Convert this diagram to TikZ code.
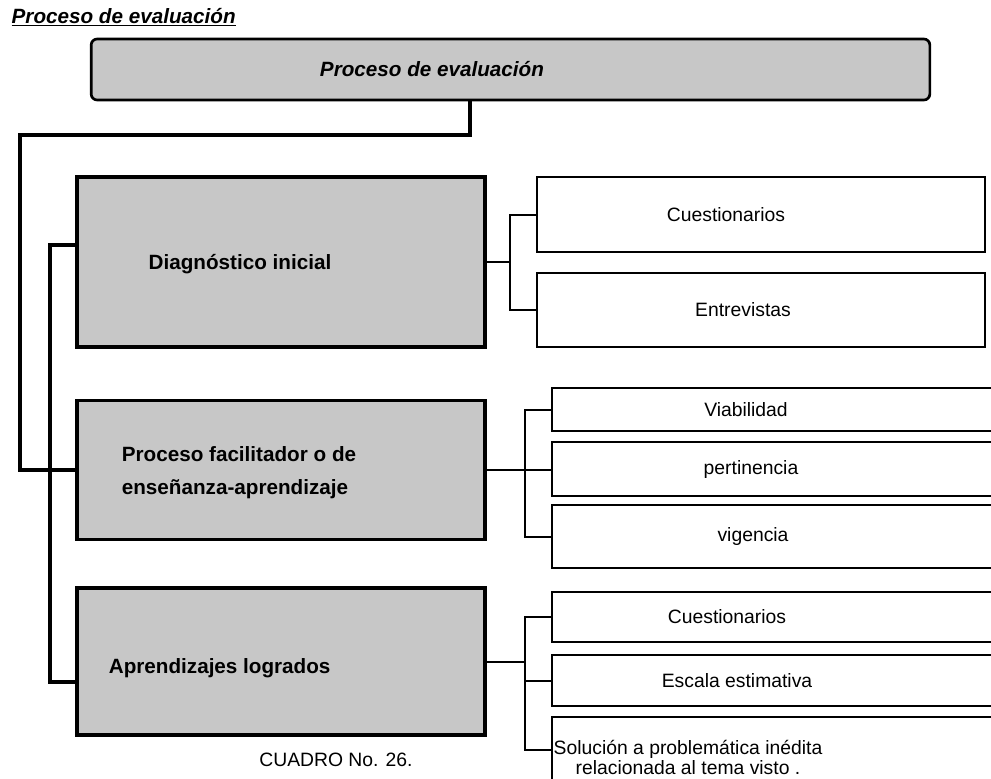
\documentclass[tikz,border=0pt]{standalone}
\usepackage{fontspec}
\setmainfont{Liberation Sans}
\usetikzlibrary{positioning}

\begin{document}
\begin{tikzpicture}[x=0.75pt, y=-0.75pt, etapa/.style={draw, line width=2.6pt, fill=black!22, minimum width=306pt}]
        \tikzstyle{hoja} = [draw, line width=1.5pt, fill=white, minimum width=336pt]
        \tikzstyle{enlace} = [line width=2.4pt]
        \tikzstyle{rama} = [line width=1.5pt]
        \tikzstyle{negrita} = [font=\fontsize{15.5}{24.5}\selectfont\bfseries]
        \tikzstyle{normal} = [font=\fontsize{14.5}{13}\selectfont]
        \useasboundingbox (0,0) rectangle (991,778);
        \clip (0,0) rectangle (991,778);

        \node[negrita, anchor=west] (titulo) at (7,17) {\itshape\underline{Proceso de evaluación}};
        \node[draw, line width=2pt, rounded corners=4.5pt, fill=black!22, minimum width=629pt, minimum height=45.75pt,
              label={[negrita, xshift=-58.9pt]center:\itshape Proceso de evaluación}] (raiz) at (510.5,69.5) {};

        \node[etapa, minimum height=127.5pt, label={[negrita, xshift=-30.75pt, yshift=-1.5pt]center:Diagnóstico inicial}] (diag) at (281,262) {};
        \node[etapa, minimum height=104.25pt, label={[negrita, align=left, xshift=-31.5pt, yshift=-1.9pt]center:Proceso facilitador o de\\enseñanza-aprendizaje}] (proc) at (281,470) {};
        \node[etapa, minimum height=110.25pt, label={[negrita, xshift=-46pt, yshift=-4.9pt]center:Aprendizajes logrados}] (apre) at (281,661.5) {};

        \node[hoja, minimum height=56.25pt, label={[normal, xshift=-26.25pt]center:Cuestionarios}] (cue1) at (761,214.5) {};
        \node[hoja, minimum height=55.5pt, label={[normal, xshift=-13.5pt]center:Entrevistas}] (entr) at (761,310) {};

        \node[hoja, minimum height=32.25pt, label={[normal, xshift=-22.5pt]center:Viabilidad}] (viab) at (776,409.5) {};
        \node[hoja, minimum height=40.5pt, label={[normal, xshift=-18.75pt]center:pertinencia}] (pert) at (776,469) {};
        \node[hoja, minimum height=47.25pt, label={[normal, xshift=-17.25pt]center:vigencia}] (vige) at (776,536.5) {};

        \node[hoja, minimum height=37.5pt, label={[normal, xshift=-36.75pt]center:Cuestionarios}] (cue2) at (776,617) {};
        \node[hoja, minimum height=38.25pt, label={[normal, xshift=-29.25pt]center:Escala estimativa}] (esca) at (776,680.5) {};
        \node[hoja, minimum height=49.5pt, label={[normal, align=center, inner sep=1pt, xshift=-66pt, yshift=-5.5pt]center:Solución a problemática inédita\\relacionada al tema visto .}] (solu) at (776,750) {};

        \node[normal] (cuadro) at (336,760) {CUADRO No. 26.};

        % tronco izquierdo
        \coordinate (codo) at (470,135);
        \coordinate (eje) at (20,135);
        \draw [enlace] (raiz.south -| codo) -- (codo) -- (eje) |- (proc.west);
        \coordinate (t1) at (50,245);
        \coordinate (t2) at (50,682);
        \draw [enlace] (diag.west |- t1) -- (t1) -- (t2) -- (apre.west |- t2);

        % ramas derechas
        \coordinate (b1) at (510,262);
        \draw [rama] (diag.east) -- (b1);
        \draw [rama] (cue1.west) -| (b1) |- (entr.west);
        \coordinate (b2) at (525,470);
        \draw [rama] (proc.east) -- (pert.west |- proc.east);
        \draw [rama] (viab.west) -| (b2) |- (vige.west);
        \coordinate (b3) at (525,661.5);
        \draw [rama] (apre.east) -- (b3);
        \draw [rama] (cue2.west) -| (b3) |- (solu.west);
        \draw [rama] (b3 |- esca.west) -- (esca.west);
\end{tikzpicture}
\end{document}
